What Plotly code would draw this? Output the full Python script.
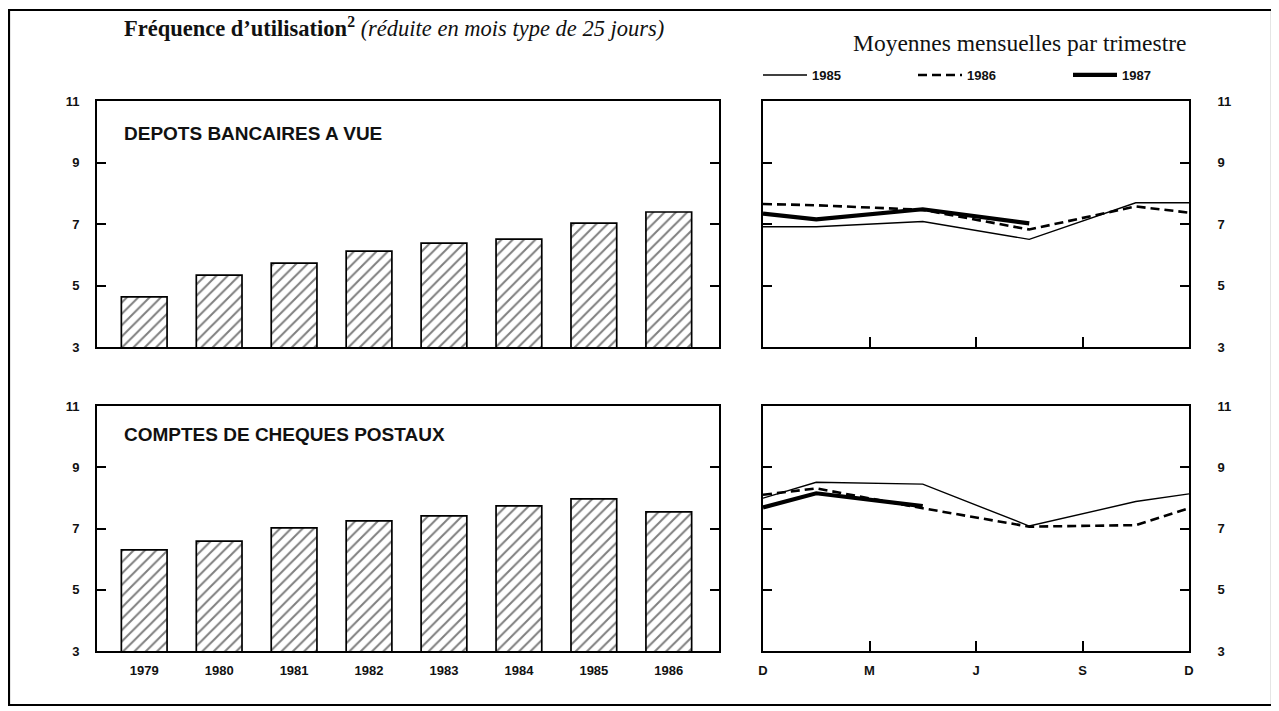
import plotly.graph_objects as go

# ---------------- data ----------------
annees = ["1979", "1980", "1981", "1982", "1983", "1984", "1985", "1986"]
depots_bancaires = [4.63, 5.34, 5.73, 6.12, 6.38, 6.51, 7.03, 7.39]
cheques_postaux = [6.30, 6.59, 7.02, 7.25, 7.41, 7.74, 7.97, 7.54]

# positions in months from December (D=0, M=3, J=6, S=9, D=12); quarterly means at mid-quarter
mois = [0, 1.5, 4.5, 7.5, 10.5, 12]
mois_1987 = [0, 1.5, 4.5, 7.5]
mois_ticks = [0, 3, 6, 9, 12]
mois_labels = ["D", "M", "J", "S", "D"]

db_1985 = [6.91, 6.91, 7.08, 6.50, 7.69, 7.69]
db_1986 = [7.65, 7.61, 7.46, 6.82, 7.57, 7.37]
db_1987 = [7.34, 7.15, 7.48, 7.02]

cp_1985 = [7.99, 8.51, 8.45, 7.08, 7.88, 8.13]
cp_1986 = [8.10, 8.31, 7.66, 7.06, 7.11, 7.66]
cp_1987 = [7.69, 8.15, 7.73]
mois_cp_1987 = [0, 1.5, 4.5]

y_ticks = [3, 5, 7, 9, 11]

# the page places the figure 8px from the top-left corner
OFF = 8
W, H = 1279 - OFF, 711 - OFF
def px(x):
    return (x - OFF) / W
def py(y):
    return 1 - (y - OFF) / H

fig = go.Figure()

bar_style = dict(
    marker=dict(color="white", line=dict(color="black", width=1.7),
                pattern=dict(shape="/", fgcolor="black", bgcolor="white", size=8, solidity=0.25)),
    width=0.61, showlegend=False, hoverinfo="skip",
)
fig.add_trace(go.Bar(x=annees, y=depots_bancaires, xaxis="x", yaxis="y", base=0, **bar_style))
fig.add_trace(go.Bar(x=annees, y=cheques_postaux, xaxis="x3", yaxis="y3", base=0, **bar_style))

styles = {
    "1985": dict(color="black", width=1.4),
    "1986": dict(color="black", width=2.6, dash="9px,5px"),
    "1987": dict(color="black", width=4.2),
}
fig.add_trace(go.Scatter(x=mois, y=db_1985, mode="lines", line=styles["1985"], name="1985",
                         xaxis="x2", yaxis="y2"))
fig.add_trace(go.Scatter(x=mois, y=db_1986, mode="lines", line=styles["1986"], name="1986",
                         xaxis="x2", yaxis="y2"))
fig.add_trace(go.Scatter(x=mois_1987, y=db_1987, mode="lines", line=styles["1987"], name="1987",
                         xaxis="x2", yaxis="y2"))
fig.add_trace(go.Scatter(x=mois, y=cp_1985, mode="lines", line=styles["1985"], name="1985",
                         xaxis="x4", yaxis="y4", showlegend=False))
fig.add_trace(go.Scatter(x=mois, y=cp_1986, mode="lines", line=styles["1986"], name="1986",
                         xaxis="x4", yaxis="y4", showlegend=False))
fig.add_trace(go.Scatter(x=mois_cp_1987, y=cp_1987, mode="lines", line=styles["1987"], name="1987",
                         xaxis="x4", yaxis="y4", showlegend=False))

tick_font = dict(family="Liberation Sans, Arial, sans-serif", size=13, color="#111", weight="bold")
left_dom = [px(97), px(719)]
right_dom = [px(763), px(1189)]
top_dom = [py(347), py(101)]
bot_dom = [py(651), py(406)]

def yax(domain, anchor, side, standoff):
    return dict(domain=domain, anchor=anchor, range=[3, 11], tickvals=y_ticks,
                ticks="inside", ticklen=9, tickwidth=1.5, tickcolor="black",
                showline=True, linecolor="black", linewidth=1.6, mirror="ticks",
                showgrid=False, zeroline=False, side=side, tickfont=tick_font,
                ticklabelstandoff=standoff, fixedrange=True, automargin=False)

def xbar(domain, anchor, labels):
    return dict(domain=domain, anchor=anchor, type="category", range=[-0.63, 7.67],
                showline=True, linecolor="black", linewidth=1.6, mirror=True,
                ticks="", showgrid=False, showticklabels=labels, tickfont=tick_font,
                ticklabelstandoff=7, fixedrange=True, automargin=False)

def xline(domain, anchor, labels):
    return dict(domain=domain, anchor=anchor, range=[0, 12], tickvals=mois_ticks,
                ticktext=mois_labels, ticks="inside", ticklen=10, tickwidth=1.5,
                tickcolor="black", showline=True, linecolor="black", linewidth=1.6,
                mirror=True, showgrid=False, zeroline=False, showticklabels=labels,
                tickfont=tick_font, ticklabelstandoff=7, fixedrange=True, automargin=False)

fig.update_layout(
    width=W, height=H,
    margin=dict(l=0, r=0, t=0, b=0, autoexpand=False),
    paper_bgcolor="white", plot_bgcolor="white",
    xaxis=xbar(left_dom, "y", False),
    yaxis=yax(top_dom, "x", "left", 13),
    xaxis2=xline(right_dom, "y2", False),
    yaxis2=yax(top_dom, "x2", "right", 24),
    xaxis3=xbar(left_dom, "y3", True),
    yaxis3=yax(bot_dom, "x3", "left", 13),
    xaxis4=xline(right_dom, "y4", True),
    yaxis4=yax(bot_dom, "x4", "right", 24),
    barmode="overlay",
    showlegend=True,
    legend=dict(orientation="h", x=px(758), y=py(75), xanchor="left", yanchor="middle",
                entrywidth=96, entrywidthmode="pixels", itemwidth=44, font=tick_font,
                bgcolor="rgba(0,0,0,0)", itemclick=False, itemdoubleclick=False,
                tracegroupgap=0),
    font=dict(family="Liberation Sans, Arial, sans-serif", color="#111"),
)

serif = "Liberation Serif, Times New Roman, serif"
fig.add_annotation(
    x=px(122), y=py(27), xref="paper", yref="paper", xanchor="left", yanchor="middle",
    text="<b>Fréquence d’utilisation</b><sup><b>2</b></sup> <i>(réduite en mois type de 25 jours)</i>",
    showarrow=False, font=dict(family=serif, size=22.5, color="#111"))
fig.add_annotation(
    x=px(1188), y=py(43), xref="paper", yref="paper", xanchor="right", yanchor="middle",
    text="Moyennes mensuelles par trimestre",
    showarrow=False, font=dict(family=serif, size=23.5, color="#111"))

panel_font = dict(family="Liberation Sans, Arial, sans-serif", size=19, color="#111")
fig.add_annotation(x=px(122), y=py(133), xref="paper", yref="paper", xanchor="left",
                   yanchor="middle", text="<b>DEPOTS BANCAIRES A VUE</b>",
                   showarrow=False, font=panel_font)
fig.add_annotation(x=px(122), y=py(434), xref="paper", yref="paper", xanchor="left",
                   yanchor="middle", text="<b>COMPTES DE CHEQUES POSTAUX</b>",
                   showarrow=False, font=panel_font)

# outer frame
fig.add_shape(type="rect", xref="paper", yref="paper", x0=px(9), x1=px(1272),
              y0=py(705), y1=py(10), line=dict(color="black", width=2.2), layer="below")

fig.write_html("out.html")
